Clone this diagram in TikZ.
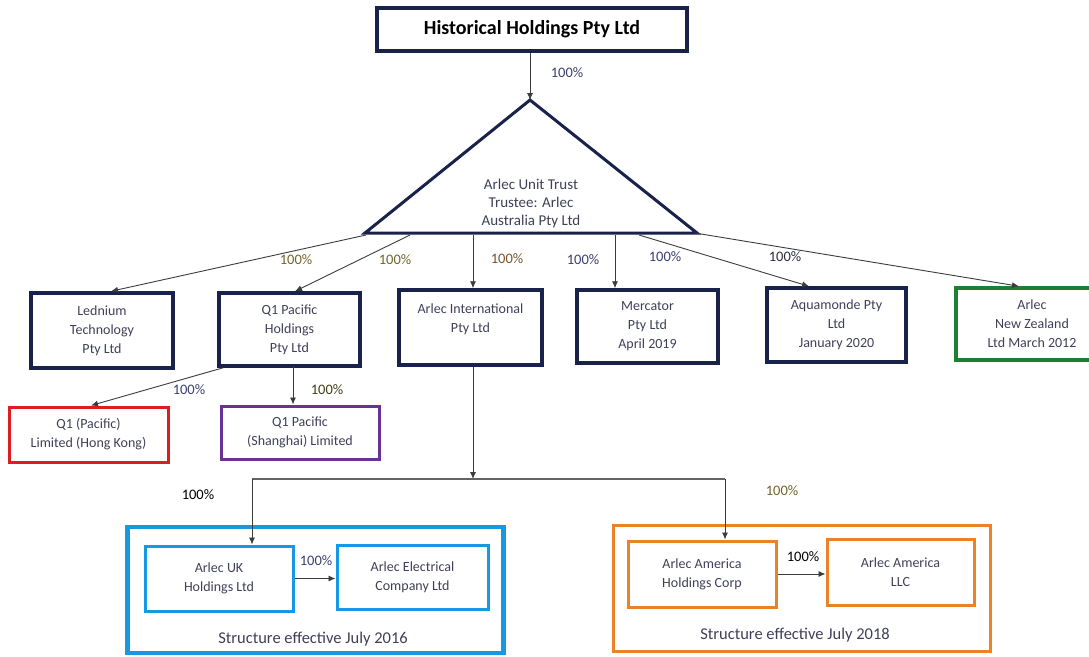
\documentclass[tikz,border=0pt]{standalone}
\usepackage{fontspec}
\setmainfont{Carlito}
\usetikzlibrary{arrows.meta,calc}
\definecolor{navy}{RGB}{24,34,74}
\definecolor{txt}{RGB}{62,64,88}
\definecolor{olv}{RGB}{112,100,40}
\definecolor{brn}{RGB}{120,82,44}
\definecolor{nvt}{RGB}{58,62,110}
\definecolor{grn}{RGB}{30,128,50}
\definecolor{rd}{RGB}{222,30,30}
\definecolor{prp}{RGB}{104,50,150}
\definecolor{blu}{RGB}{22,152,226}
\definecolor{org}{RGB}{236,130,40}
\definecolor{lin}{RGB}{60,60,60}
\tikzset{
  fnt/.style={font=\fontsize{14}{19}\selectfont},
  ent/.style={draw=navy, line width=3.5pt, inner sep=0pt, align=center, text=txt, fnt},
  pct/.style={inner sep=0pt, font=\fontsize{14.5}{17}\selectfont},
  arr/.style={draw=lin, line width=0.9pt, -{Latex[length=7pt,width=6pt]}},
}
\begin{document}
\begin{tikzpicture}[x=1pt,y=-1pt]
\useasboundingbox (0,0) rectangle (1089,656);

% title
\node[ent, minimum width=310, minimum height=43, text=black,
  font=\fontsize{20}{22}\selectfont\bfseries] (title) at (532,29.5) {Historical Holdings Pty Ltd};

% triangle
\coordinate (apex) at (530,100);
\coordinate (tl) at (365,233);
\coordinate (tr) at (697,233);
\draw[navy, line width=3pt, line join=miter] (tl) -- (apex) -- (tr) -- cycle;
\node[inner sep=0pt, align=center, text=txt, font=\fontsize{15}{18}\selectfont] (trust) at (531,203)
  {Arlec Unit Trust\\Trustee: Arlec\\Australia Pty Ltd};

\coordinate (b1) at (366,235);
\coordinate (b2) at (410,235);
\coordinate (b3) at (473,235);
\coordinate (b4) at (615,235);
\coordinate (b5) at (639,235);
\coordinate (b6) at (695,233);

% first row
\node[ent, minimum width=142, minimum height=75] (led) at (102,330.5) {Lednium\\Technology\\Pty Ltd};
\node[ent, minimum width=141, minimum height=73] (q1) at (289.5,329.5) {Q1 Pacific\\Holdings\\Pty Ltd};
\node[ent, minimum width=143, minimum height=75] (ai) at (470.5,327.5) {Arlec International\\Pty Ltd\\\mbox{}};
\node[ent, minimum width=141, minimum height=73] (mer) at (647.5,326.5) {Mercator\\Pty Ltd\\April 2019};
\node[ent, minimum width=139, minimum height=74] (aqu) at (836.5,325) {Aquamonde Pty\\Ltd\\January 2020};
\node[ent, draw=grn, minimum width=152, minimum height=72] (nz) at (1032,324) {Arlec\\New Zealand\\Ltd March 2012};

% second row
\node[ent, draw=rd, line width=3pt, minimum width=159, minimum height=55] (hk) at (88.5,434.5) {Q1 (Pacific)\\Limited (Hong Kong)};
\node[ent, draw=prp, line width=3pt, minimum width=158, minimum height=53] (sh) at (300,432.5) {Q1 Pacific\\(Shanghai) Limited};

% group boxes
\node[draw=blu, line width=4.5pt, minimum width=376, minimum height=126, inner sep=0pt] (gb) at (315.5,590) {};
\node[ent, draw=blu, line width=3pt, minimum width=148, minimum height=65] (uk) at (219,578.5) {Arlec UK\\Holdings Ltd};
\node[ent, draw=blu, line width=3pt, minimum width=151, minimum height=64] (el) at (412.5,577) {Arlec Electrical\\Company Ltd};
\node[text=txt, inner sep=0pt, font=\fontsize{16.5}{18}\selectfont] (gbt) at (313,639) {Structure effective July 2016};

\node[draw=org, line width=3pt, minimum width=377, minimum height=126, inner sep=0pt] (go) at (801.5,588) {};
\node[ent, draw=org, line width=3pt, minimum width=148, minimum height=66] (aah) at (702,574) {Arlec America\\Holdings Corp};
\node[ent, draw=org, line width=3pt, minimum width=147, minimum height=66] (llc) at (900.5,572) {Arlec America\\LLC};
\node[text=txt, inner sep=0pt, font=\fontsize{16.5}{18}\selectfont] (got) at (795,635) {Structure effective July 2018};

% connectors
\draw[arr] (apex |- title.south) -- (apex);
\draw[arr] (b1) -- ([xshift=9pt]led.north);
\draw[arr] (b2) -- ([xshift=5.5pt]q1.north);
\draw[arr] (b3) -- (b3 |- ai.north);
\draw[arr] (b4) -- (b4 |- mer.north);
\draw[arr] (b5) -- ([xshift=-27.5pt]aqu.north);
\draw[arr] (b6) -- ([xshift=-13pt]nz.north);

\draw[arr] ([xshift=6pt]q1.south west) -- ([xshift=2.5pt]hk.north);
\coordinate (q1b) at (293,366);
\draw[arr] (q1b) -- (q1b |- sh.north);

\coordinate (jm) at (473,479);
\coordinate (jl) at (252,479);
\coordinate (jr) at (725,479);
\draw[arr] (b3 |- ai.south) -- (jm);
\draw[draw=lin!80, line width=1.2pt] (jl) -- (jr);
\draw[arr] (jl) -- (jl |- uk.north);
\draw[arr] (jr) -- (jr |- aah.north);
\draw[arr] (uk.east) -- (uk.east -| el.west);
\draw[arr] (aah.east) -- (aah.east -| llc.west);

% percent labels
\node[pct, text=nvt] (p0) at (567,73) {100\%};
\node[pct, text=olv] (p1) at (296,260) {100\%};
\node[pct, text=olv] (p2) at (395,260) {100\%};
\node[pct, text=brn] (p3) at (507,259) {100\%};
\node[pct, text=nvt] (p4) at (583,260) {100\%};
\node[pct, text=nvt] (p5) at (665,257) {100\%};
\node[pct, text=txt!70!black] (p6) at (785,257) {100\%};
\node[pct, text=nvt] (p7) at (189,390) {100\%};
\node[pct, text=olv!60!black] (p8) at (327,390) {100\%};
\node[pct, text=black] (p9) at (198,495) {100\%};
\node[pct, text=olv] (p10) at (782,491) {100\%};
\node[pct, text=nvt] (p11) at (316,561) {100\%};
\node[pct, text=black] (p12) at (803,557) {100\%};
\end{tikzpicture}
\end{document}
